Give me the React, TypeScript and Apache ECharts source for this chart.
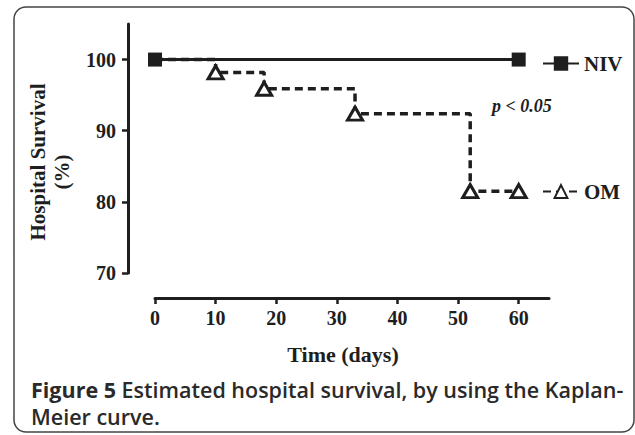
import React, { useEffect, useRef } from "react";
import * as echarts from "echarts";

const omDays = [0, 10, 18, 33, 52, 60];
const omSurvival = [100, 98.2, 95.9, 92.4, 81.5, 81.5];
const nivDays = [0, 60];
const nivSurvival = [100, 100];
const xTicks = [0, 10, 20, 30, 40, 50, 60];
const yTicks = [70, 80, 90, 100];

const SERIF = "'Liberation Serif', 'Times New Roman', serif";
const INK = "#1e1e1e";

export default function App() {
  const ref = useRef<HTMLDivElement>(null);
  useEffect(() => {
    document.body.style.margin = "0";
    const chart = echarts.init(ref.current!, null, { renderer: "svg" });
    const omData = omDays.map((d, i) =>
      i === 0 ? { value: [d, omSurvival[i]], symbol: "none" } : { value: [d, omSurvival[i]] }
    );
    const nivData = nivDays.map((d, i) => [d, nivSurvival[i]]);
    chart.setOption({
      animation: false,
      grid: { left: 155, top: 24, width: 394, height: 249 },
      xAxis: {
        type: "value",
        min: 0,
        max: 65,
        interval: 10,
        offset: 25,
        splitLine: { show: false },
        axisLine: { onZero: false, lineStyle: { color: INK, width: 3 } },
        axisTick: { show: true, length: 6, lineStyle: { color: INK, width: 2.5 }, customValues: xTicks },
        axisLabel: {
          customValues: xTicks,
          margin: 10,
          color: INK,
          fontFamily: SERIF,
          fontWeight: "bold",
          fontSize: 20,
        },
        name: "Time (days)",
        nameLocation: "middle",
        nameGap: 45,
        nameTextStyle: {
          color: INK,
          fontFamily: SERIF,
          fontWeight: "bold",
          fontSize: 22,
          padding: [0, 18, 0, 0],
        },
      },
      yAxis: {
        type: "value",
        min: 70,
        max: 105,
        interval: 10,
        offset: 27,
        splitLine: { show: false },
        axisLine: { show: true, onZero: false, lineStyle: { color: INK, width: 3 } },
        axisTick: { show: true, length: 6, lineStyle: { color: INK, width: 2.5 }, customValues: yTicks },
        axisLabel: {
          customValues: yTicks,
          margin: 12,
          color: INK,
          fontFamily: SERIF,
          fontWeight: "bold",
          fontSize: 20,
        },
      },
      legend: [
        {
          data: ["NIV"],
          left: 537,
          top: 48,
          itemWidth: 36,
          itemHeight: 18,
          itemGap: 11,
          textStyle: { color: INK, fontFamily: SERIF, fontWeight: "bold", fontSize: 21 },
        },
        {
          data: ["OM"],
          left: 537,
          top: 176,
          itemWidth: 36,
          itemHeight: 16,
          itemGap: 11,
          textStyle: { color: INK, fontFamily: SERIF, fontWeight: "bold", fontSize: 21 },
        },
      ],
      series: [
        {
          name: "OM",
          type: "line",
          step: "end",
          data: omData,
          symbol: "triangle",
          symbolSize: [15, 13],
          lineStyle: { color: INK, width: 3.5, type: [8, 5] },
          itemStyle: { color: "#ffffff", borderColor: INK, borderWidth: 3 },
          z: 2,
        },
        {
          name: "NIV",
          type: "line",
          data: nivData,
          symbol: "rect",
          symbolSize: 14,
          lineStyle: { color: INK, width: 3 },
          itemStyle: { color: INK },
          z: 3,
        },
      ],
      graphic: [
        {
          type: "rect",
          shape: { x: 14, y: 7, width: 620, height: 425, r: 12 },
          style: { fill: "none", stroke: "#444", lineWidth: 1.5 },
          silent: true,
        },
        {
          type: "text",
          x: 38,
          y: 162,
          rotation: Math.PI / 2,
          style: {
            text: "Hospital Survival",
            fill: INK,
            font: `bold 21px ${SERIF}`,
            textAlign: "center",
            textVerticalAlign: "middle",
          },
        },
        {
          type: "text",
          x: 62,
          y: 172,
          rotation: Math.PI / 2,
          style: {
            text: "(%)",
            fill: INK,
            font: `bold 21px ${SERIF}`,
            textAlign: "center",
            textVerticalAlign: "middle",
          },
        },
        {
          type: "text",
          x: 492,
          y: 106,
          style: {
            text: "p < 0.05",
            fill: INK,
            font: `italic bold 18px ${SERIF}`,
            textAlign: "left",
            textVerticalAlign: "middle",
          },
        },
        {
          type: "text",
          x: 31,
          y: 376,
          style: {
            text: "{b|Figure 5} Estimated hospital survival, by using the Kaplan-\nMeier curve.",
            fill: "#2a2a2a",
            font: `600 21.5px 'Open Sans', sans-serif`,
            lineHeight: 27,
            rich: {
              b: { fontWeight: "bold", fontSize: 21.5, fontFamily: "'Open Sans', sans-serif", fill: "#2a2a2a" },
            },
          },
        },
      ],
    });
    return () => chart.dispose();
  }, []);
  return <div ref={ref} style={{ width: 635, height: 435 }} />;
}
